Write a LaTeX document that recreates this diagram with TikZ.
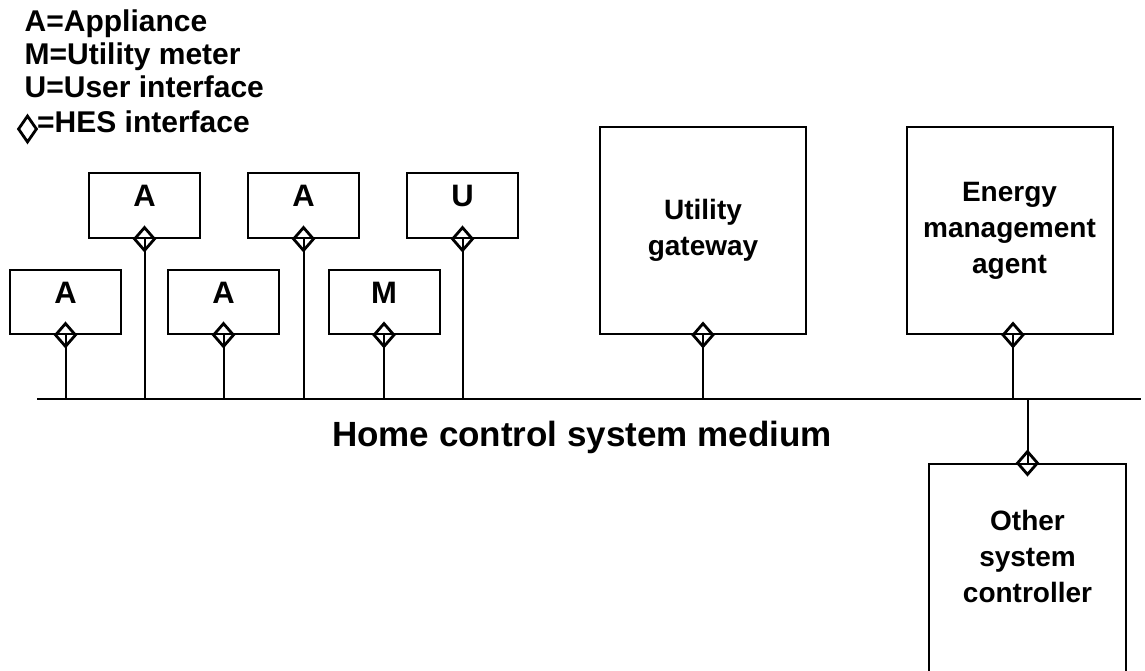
\documentclass[tikz,border=0pt]{standalone}
\usepackage{fontspec}
\setmainfont{Liberation Sans}
\usetikzlibrary{shapes.geometric}
\begin{document}
\begin{tikzpicture}[x=1pt,y=-1pt,
  box/.style={draw, line width=2pt, inner sep=0pt},
  hes/.style={draw, diamond, line width=2.8pt, minimum width=21pt, minimum height=24pt, inner sep=0pt},
  wire/.style={line width=2pt},
  lbl/.style={font=\fontsize{28}{36}\selectfont\bfseries, align=center},
  letter/.style={font=\fontsize{31}{32}\selectfont\bfseries, anchor=base, inner sep=0pt},
  legend/.style={font=\fontsize{30}{34}\selectfont\bfseries, anchor=base west, inner sep=0pt}]

\useasboundingbox (0,0) rectangle (1145,670);

% legend
\node[legend] (l1) at (24.5,31.5) {A=Appliance};
\node[legend] (l2) at (24.5,64.5) {M=Utility meter};
\node[legend] (l3) at (24.5,97.5) {U=User interface};
\node[hes, minimum width=19pt, minimum height=27pt] (ld) at (27.5,129) {};
\node[legend] (l4) at (37,132.5) {=HES interface};

% bus
\coordinate (busL) at (37,399);
\coordinate (busR) at (1141,399);
\draw[wire] (busL) -- (busR);
\node[font=\fontsize{35}{40}\selectfont\bfseries, anchor=base, inner sep=0pt] (busname) at (582,446) {Home control system medium};

% small boxes
\node[box, minimum width=111pt, minimum height=64pt] (a1) at (65.5,302) {};
\node[box, minimum width=111pt, minimum height=65pt] (a2) at (144.5,205.5) {};
\node[box, minimum width=111pt, minimum height=64pt] (a3) at (223.5,302) {};
\node[box, minimum width=111pt, minimum height=65pt] (a4) at (303.5,205.5) {};
\node[box, minimum width=111pt, minimum height=64pt] (m) at (384,302) {};
\node[box, minimum width=111pt, minimum height=65pt] (u) at (462.5,205.5) {};

\path (a1.north) ++(0,34) node[letter] (ta1) {A};
\path (a2.north) ++(0,34) node[letter] (ta2) {A};
\path (a3.north) ++(0,34) node[letter] (ta3) {A};
\path (a4.north) ++(0,34) node[letter] (ta4) {A};
\path (m.north) ++(0,34) node[letter] (tm) {M};
\path (u.north) ++(0,34) node[letter] (tu) {U};

% large boxes
\node[box, lbl, minimum width=206pt, minimum height=207pt] (gw) at (703,230.5) {Utility\\gateway};
\node[box, lbl, minimum width=206pt, minimum height=207pt] (em) at (1009.5,230.5) {Energy\\management\\agent};
\node[box, minimum width=197pt, minimum height=260pt, anchor=north] (oc) at (1027.5,463) {};
\node[lbl, inner sep=0pt] (oct) at (1027.5,556) {Other\\system\\controller};

% HES interfaces
\node[hes] (d1) at (a1.south) {};
\node[hes] (d2) at (a2.south) {};
\node[hes] (d3) at (a3.south) {};
\node[hes] (d4) at (a4.south) {};
\node[hes] (d5) at (m.south) {};
\node[hes] (d6) at (u.south) {};
\node[hes] (d7) at (gw.south) {};
\node[hes] (d8) at ([xshift=3.5pt]em.south) {};
\node[hes] (d9) at (oc.north) {};

% connectors
\foreach \d in {d1,d2,d3,d4,d5,d6,d7,d8,d9}
  \draw[wire] (\d.center) -- (\d.center |- busL);
\end{tikzpicture}
\end{document}
